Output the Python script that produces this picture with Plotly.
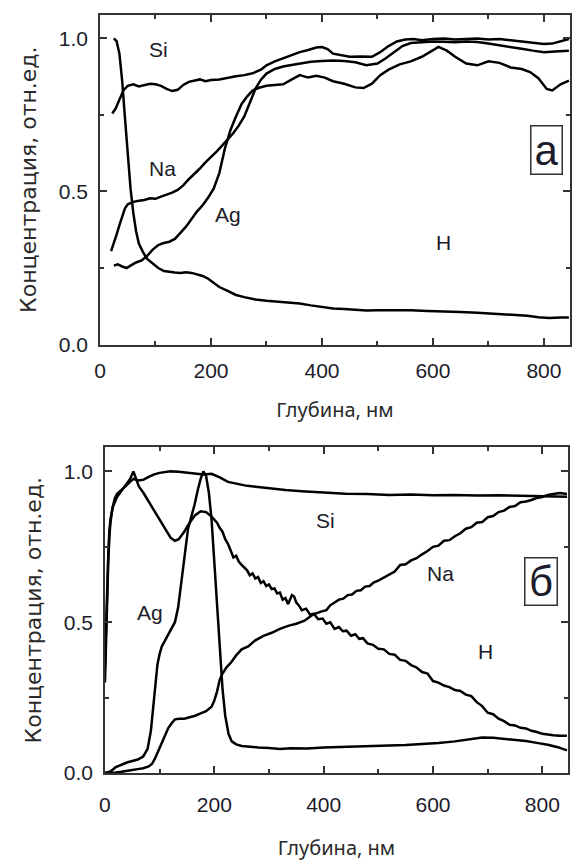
import plotly.graph_objects as go

# ---------------- Panel (a) data ----------------
h_a_x = [25, 30, 35, 40, 45, 50, 55, 60, 65, 70, 78, 85, 95, 105, 115, 125, 135, 145, 155, 165, 175, 185, 195, 205, 215, 230, 245, 260, 280, 300, 320, 340, 360, 380, 400, 420, 440, 460, 480, 500, 530, 560, 590, 620, 650, 680, 710, 740, 770, 790, 810, 830, 845]
h_a_y = [1.0, 0.99, 0.95, 0.86, 0.74, 0.62, 0.51, 0.43, 0.37, 0.33, 0.30, 0.28, 0.265, 0.25, 0.24, 0.237, 0.235, 0.234, 0.236, 0.234, 0.230, 0.224, 0.215, 0.200, 0.188, 0.175, 0.162, 0.155, 0.147, 0.143, 0.140, 0.137, 0.134, 0.128, 0.122, 0.118, 0.116, 0.113, 0.111, 0.112, 0.113, 0.112, 0.110, 0.109, 0.106, 0.104, 0.101, 0.098, 0.094, 0.089, 0.087, 0.088, 0.088]

si_a_x = [22, 28, 35, 42, 50, 60, 70, 80, 90, 100, 110, 120, 130, 140, 150, 160, 170, 180, 190, 200, 215, 230, 245, 260, 275, 290, 300, 315, 330, 345, 360, 375, 390, 400, 410, 420, 435, 450, 470, 490, 505, 520, 535, 550, 565, 580, 600, 620, 640, 660, 680, 700, 720, 740, 760, 780, 800, 815, 830, 845]
si_a_y = [0.755, 0.77, 0.80, 0.83, 0.845, 0.850, 0.843, 0.848, 0.852, 0.850, 0.845, 0.835, 0.828, 0.832, 0.848, 0.858, 0.862, 0.866, 0.860, 0.864, 0.866, 0.872, 0.876, 0.880, 0.886, 0.898, 0.912, 0.925, 0.935, 0.945, 0.955, 0.962, 0.970, 0.972, 0.965, 0.950, 0.945, 0.940, 0.941, 0.940, 0.955, 0.975, 0.990, 0.996, 0.998, 0.994, 0.998, 1.0, 0.996, 0.999, 1.0, 0.996, 0.998, 0.994, 0.990, 0.985, 0.982, 0.983, 0.990, 0.998]

na_a_x = [20, 25, 30, 35, 40, 45, 50, 55, 60, 70, 80, 90, 100, 110, 120, 130, 140, 150, 160, 170, 180, 190, 200, 210, 220, 230, 240, 250, 260, 270, 280, 290, 300, 315, 330, 345, 360, 380, 400, 420, 440, 460, 480, 500, 515, 530, 545, 560, 580, 600, 620, 640, 660, 680, 700, 720, 740, 760, 780, 800, 820, 845]
na_a_y = [0.305, 0.33, 0.36, 0.39, 0.42, 0.445, 0.458, 0.463, 0.466, 0.470, 0.472, 0.478, 0.476, 0.483, 0.489, 0.496, 0.505, 0.520, 0.540, 0.556, 0.575, 0.595, 0.612, 0.630, 0.650, 0.670, 0.690, 0.715, 0.745, 0.790, 0.835, 0.865, 0.885, 0.900, 0.908, 0.913, 0.918, 0.924, 0.926, 0.928, 0.926, 0.922, 0.912, 0.918, 0.935, 0.955, 0.975, 0.985, 0.988, 0.990, 0.989, 0.987, 0.990, 0.988, 0.983, 0.978, 0.972, 0.966, 0.960, 0.955, 0.957, 0.960]

ag_a_x = [25, 32, 40, 48, 55, 65, 75, 85, 95, 105, 115, 125, 135, 145, 155, 165, 175, 185, 195, 205, 215, 225, 235, 245, 255, 265, 275, 285, 300, 315, 330, 345, 360, 375, 390, 405, 420, 440, 460, 475, 490, 505, 520, 540, 560, 580, 595, 610, 625, 640, 660, 680, 700, 720, 740, 760, 775, 790, 805, 815, 830, 845]
ag_a_y = [0.258, 0.262, 0.255, 0.250, 0.258, 0.268, 0.275, 0.290, 0.310, 0.325, 0.332, 0.336, 0.345, 0.365, 0.385, 0.410, 0.435, 0.455, 0.480, 0.510, 0.560, 0.640, 0.700, 0.745, 0.785, 0.810, 0.830, 0.838, 0.845, 0.848, 0.850, 0.865, 0.880, 0.872, 0.878, 0.872, 0.860, 0.852, 0.840, 0.838, 0.852, 0.880, 0.898, 0.915, 0.925, 0.940, 0.955, 0.972, 0.960, 0.940, 0.918, 0.912, 0.925, 0.920, 0.905, 0.900, 0.890, 0.870, 0.835, 0.830, 0.850, 0.862]

# ---------------- Panel (б) data ----------------
si_b_x = [0, 2, 4, 6, 8, 10, 14, 18, 22, 28, 34, 40, 46, 52, 60, 70, 80, 90, 100, 110, 120, 135, 150, 165, 180, 195, 210, 225, 240, 260, 280, 300, 330, 360, 400, 440, 480, 520, 560, 600, 640, 680, 720, 760, 800, 845]
si_b_y = [0.30, 0.45, 0.58, 0.70, 0.78, 0.83, 0.88, 0.91, 0.925, 0.935, 0.945, 0.955, 0.965, 0.975, 0.970, 0.972, 0.982, 0.990, 0.995, 0.998, 1.0, 0.999, 0.996, 0.994, 0.990, 0.992, 0.980, 0.965, 0.960, 0.952, 0.948, 0.943, 0.938, 0.934, 0.930, 0.926, 0.925, 0.922, 0.923, 0.921, 0.922, 0.920, 0.921, 0.919, 0.918, 0.916]

h_b_x = [0, 2, 4, 6, 8, 10, 14, 18, 22, 28, 34, 40, 46, 52, 56, 62, 70, 80, 90, 100, 110, 120, 128, 135, 145, 155, 165, 175, 185, 195, 205, 210, 215, 220, 225, 230, 235, 240, 245, 250, 255, 260, 265, 270, 275, 280, 285, 290, 295, 300, 305, 310, 315, 320, 325, 330, 335, 342, 346, 350, 355, 360, 368, 375, 382, 390, 398, 405, 412, 420, 428, 435, 442, 450, 458, 465, 472, 480, 490, 500, 510, 520, 530, 540, 550, 560, 570, 580, 590, 600, 610, 620, 630, 640, 650, 660, 670, 680, 690, 700, 710, 720, 730, 740, 750, 760, 770, 780, 790, 800, 810, 820, 832, 845]
h_b_y = [0.35, 0.50, 0.62, 0.72, 0.80, 0.84, 0.88, 0.90, 0.915, 0.93, 0.945, 0.96, 0.975, 1.0, 0.98, 0.95, 0.93, 0.90, 0.87, 0.84, 0.81, 0.78, 0.77, 0.775, 0.80, 0.83, 0.855, 0.868, 0.865, 0.850, 0.830, 0.812, 0.800, 0.775, 0.760, 0.735, 0.715, 0.720, 0.700, 0.690, 0.680, 0.672, 0.655, 0.662, 0.645, 0.650, 0.630, 0.636, 0.620, 0.625, 0.610, 0.612, 0.595, 0.598, 0.575, 0.580, 0.560, 0.590, 0.585, 0.565, 0.555, 0.540, 0.545, 0.525, 0.528, 0.510, 0.512, 0.495, 0.500, 0.478, 0.484, 0.470, 0.472, 0.455, 0.460, 0.445, 0.447, 0.430, 0.425, 0.412, 0.410, 0.395, 0.392, 0.375, 0.372, 0.358, 0.350, 0.335, 0.330, 0.305, 0.300, 0.290, 0.285, 0.275, 0.272, 0.260, 0.255, 0.235, 0.222, 0.200, 0.195, 0.180, 0.172, 0.160, 0.158, 0.150, 0.148, 0.140, 0.136, 0.130, 0.128, 0.125, 0.124, 0.124]

ag_b_x = [0, 10, 20, 30, 40, 50, 60, 70, 78, 84, 88, 92, 96, 100, 104, 110, 116, 122, 128, 134, 140, 146, 152, 158, 164, 170, 175, 180, 185, 190, 195, 200, 205, 210, 215, 220, 226, 232, 240, 250, 265, 280, 300, 320, 340, 370, 400, 430, 460, 490, 520, 550, 580, 610, 640, 670, 690, 710, 730, 750, 770, 790, 810, 830, 845]
ag_b_y = [0.0, 0.005, 0.02, 0.028, 0.035, 0.040, 0.045, 0.055, 0.080, 0.140, 0.220, 0.300, 0.360, 0.395, 0.420, 0.440, 0.460, 0.475, 0.500, 0.550, 0.640, 0.740, 0.810, 0.850, 0.890, 0.940, 0.975, 1.0, 0.985, 0.930, 0.840, 0.700, 0.560, 0.400, 0.280, 0.190, 0.130, 0.105, 0.095, 0.090, 0.087, 0.085, 0.083, 0.080, 0.082, 0.081, 0.085, 0.086, 0.087, 0.089, 0.091, 0.093, 0.096, 0.100, 0.105, 0.112, 0.118, 0.117, 0.114, 0.111, 0.106, 0.100, 0.094, 0.085, 0.075]

na_b_x = [0, 10, 20, 30, 40, 50, 60, 70, 80, 86, 92, 98, 104, 110, 116, 122, 128, 136, 145, 155, 165, 175, 185, 195, 200, 205, 210, 215, 222, 230, 240, 250, 262, 275, 290, 305, 320, 335, 350, 365, 380, 395, 405, 412, 420, 428, 436, 444, 452, 460, 468, 476, 484, 492, 500, 510, 520, 530, 540, 550, 560, 570, 580, 590, 600, 610, 620, 630, 640, 650, 660, 670, 680, 690, 700, 710, 720, 730, 740, 750, 760, 770, 780, 790, 800, 810, 820, 832, 845]
na_b_y = [0.0, 0.0, 0.002, 0.004, 0.006, 0.010, 0.013, 0.016, 0.022, 0.030, 0.050, 0.075, 0.100, 0.130, 0.150, 0.165, 0.178, 0.180, 0.180, 0.185, 0.190, 0.198, 0.205, 0.220, 0.240, 0.270, 0.310, 0.330, 0.350, 0.365, 0.390, 0.410, 0.420, 0.440, 0.455, 0.465, 0.478, 0.488, 0.495, 0.505, 0.525, 0.535, 0.540, 0.556, 0.565, 0.575, 0.578, 0.590, 0.592, 0.604, 0.606, 0.618, 0.620, 0.632, 0.638, 0.648, 0.660, 0.668, 0.690, 0.692, 0.705, 0.712, 0.725, 0.736, 0.750, 0.754, 0.770, 0.772, 0.785, 0.795, 0.810, 0.815, 0.830, 0.832, 0.848, 0.852, 0.865, 0.870, 0.882, 0.885, 0.898, 0.900, 0.905, 0.912, 0.915, 0.922, 0.925, 0.928, 0.925]

# labels
labels_a = ["Si", "Na", "Ag", "H"]
labels_a_x = [105, 112, 230, 619]
labels_a_y = [0.965, 0.575, 0.425, 0.333]
labels_b = ["Si", "Na", "Ag", "H"]
labels_b_x = [404, 614, 82, 696]
labels_b_y = [0.838, 0.663, 0.533, 0.404]
panel_tags = ["a", "б"]

x_tickvals = [0, 200, 400, 600, 800]
y_tickvals = [0.0, 0.5, 1.0]
y_ticktext = ["0.0", "0.5", "1.0"]
x_title = "Глубина, нм"
y_title = "Концентрация, отн.ед."

W, H = 572, 866
LINE = dict(color="black", width=2.5)

fig = go.Figure()
for xs, ys, name in [(h_a_x, h_a_y, "H"), (si_a_x, si_a_y, "Si"), (na_a_x, na_a_y, "Na"), (ag_a_x, ag_a_y, "Ag")]:
    fig.add_trace(go.Scatter(x=xs, y=ys, mode="lines", line=LINE, name=name, xaxis="x", yaxis="y"))
for xs, ys, name in [(si_b_x, si_b_y, "Si"), (h_b_x, h_b_y, "H"), (ag_b_x, ag_b_y, "Ag"), (na_b_x, na_b_y, "Na")]:
    fig.add_trace(go.Scatter(x=xs, y=ys, mode="lines", line=LINE, name=name, xaxis="x2", yaxis="y2"))

tickfont = dict(family="Liberation Sans, Arial", size=21, color="#1c1c2a")
xtitlefont = dict(family="Noto Sans", size=20, color="#2a2a2a")
ytitlefont = dict(family="DejaVu Sans", size=22, color="#2a2a2a")

def xax(domain, anchor, lblstand, tstand):
    return dict(domain=domain, anchor=anchor, range=[0, 847], tickvals=x_tickvals,
                ticks="inside", ticklen=7, tickwidth=1.5, tickcolor="#333",
                minor=dict(ticks="inside", ticklen=4, tickwidth=1.5, tickcolor="#333", dtick=100, tick0=0),
                showline=True, linecolor="#333", linewidth=1.5, mirror="allticks",
                showgrid=False, zeroline=False, tickfont=tickfont, ticklabelstandoff=lblstand,
                title=dict(text=x_title, font=xtitlefont, standoff=tstand))

def yax(domain, anchor, rng):
    return dict(domain=domain, anchor=anchor, range=rng, tickvals=y_tickvals, ticktext=y_ticktext,
                ticks="inside", ticklen=7, tickwidth=1.5, tickcolor="#333",
                minor=dict(ticks="inside", ticklen=4, tickwidth=1.5, tickcolor="#333", dtick=0.25, tick0=0),
                showline=True, linecolor="#333", linewidth=1.5, mirror="allticks",
                showgrid=False, zeroline=False, tickfont=tickfont, ticklabelstandoff=6,
                title=dict(text=y_title, font=ytitlefont, standoff=16))

fig.update_layout(
    width=W, height=H, margin=dict(l=0, r=0, t=0, b=0),
    paper_bgcolor="white", plot_bgcolor="white", showlegend=False,
    xaxis=xax([95 / W, 570 / W], "y", 6, 22),
    yaxis=yax([1 - 349 / H, 1 - 15 / H], "x", [0, 1.077]),
    xaxis2=xax([100 / W, 568 / W], "y2", 12, 26),
    yaxis2=yax([1 - 783 / H, 1 - 453 / H], "x2", [0, 1.08]),
)

lblfont = dict(family="Liberation Sans, Arial", size=21, color="#1c1c2a")
for t, x, y in zip(labels_a, labels_a_x, labels_a_y):
    fig.add_annotation(text=t, x=x, y=y, xref="x", yref="y", showarrow=False, font=lblfont)
for t, x, y in zip(labels_b, labels_b_x, labels_b_y):
    fig.add_annotation(text=t, x=x, y=y, xref="x2", yref="y2", showarrow=False, font=lblfont)

tagfont = dict(family="Liberation Sans, Arial", size=42, color="#1c1c2a")
fig.add_annotation(text=panel_tags[0], x=804, y=0.634, xref="x", yref="y", showarrow=False,
                   font=tagfont, bordercolor="#333", borderwidth=1.5, width=30, height=47, borderpad=0)
fig.add_annotation(text=panel_tags[1], x=798, y=0.636, xref="x2", yref="y2", showarrow=False,
                   font=tagfont, bordercolor="#333", borderwidth=1.5, width=31, height=46, borderpad=0)

fig.write_html("out.html")
